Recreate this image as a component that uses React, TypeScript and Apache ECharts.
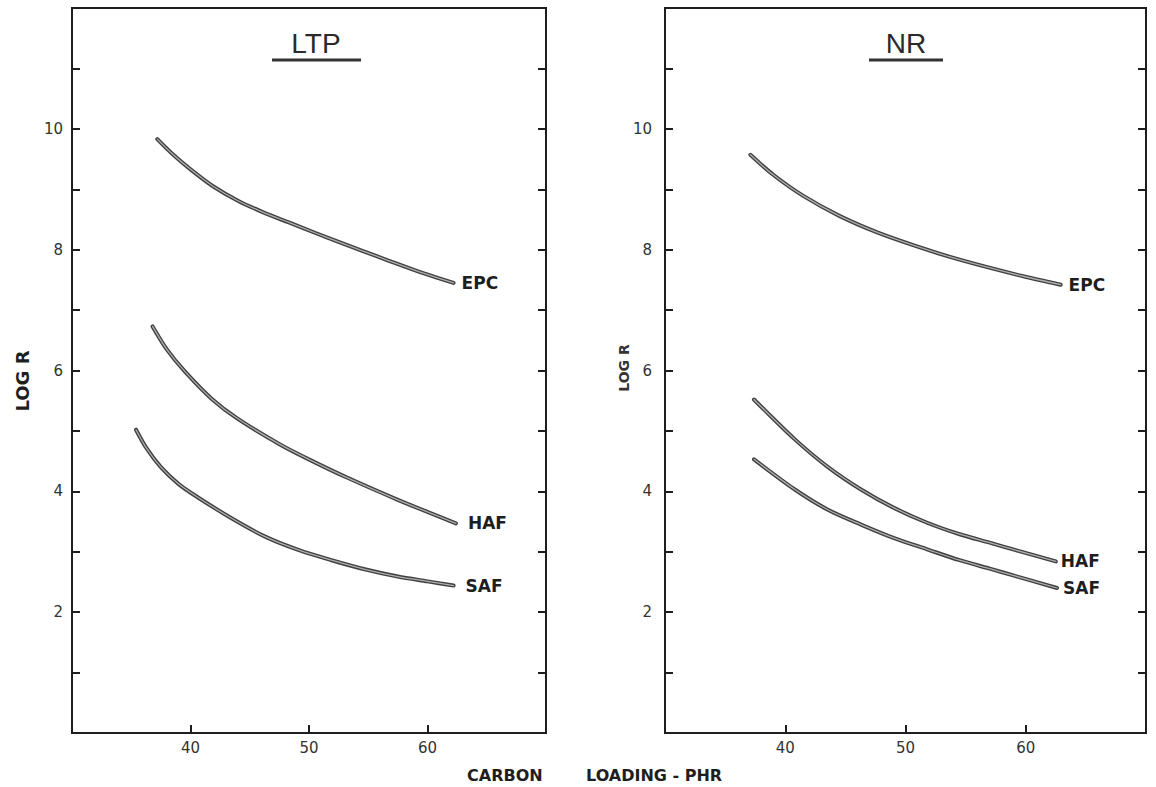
import React, { useEffect, useRef } from "react";
import * as echarts from "echarts";

// ---- data ----
const panels = ["LTP", "NR"];
const curveNames = ["EPC", "HAF", "SAF"];
const xTickLabels = [40, 50, 60];
const yTickLabels = [2, 4, 6, 8, 10];

// LTP
const ltpEpcX = [37.2, 38.5, 40, 41.9, 44, 46, 48.3, 50.5, 52.5, 54.5, 56.7, 59.5, 62.2];
const ltpEpcY = [9.83, 9.58, 9.33, 9.05, 8.81, 8.63, 8.45, 8.28, 8.13, 7.98, 7.82, 7.62, 7.45];
const ltpHafX = [36.8, 38, 39.5, 41.8, 44, 47.7, 50.5, 53.3, 57.5, 62.4];
const ltpHafY = [6.73, 6.35, 5.99, 5.53, 5.2, 4.76, 4.48, 4.22, 3.86, 3.47];
const ltpSafX = [35.4, 36.3, 37.5, 39, 40.7, 43.5, 46.3, 49.1, 51.9, 54.7, 57.5, 60, 62.2];
const ltpSafY = [5.02, 4.71, 4.4, 4.12, 3.89, 3.55, 3.25, 3.03, 2.86, 2.71, 2.59, 2.51, 2.44];

// NR
const nrEpcX = [37.1, 39, 41.5, 44.5, 47.6, 50.7, 53.7, 56.8, 59.8, 62.9];
const nrEpcY = [9.57, 9.24, 8.89, 8.56, 8.29, 8.07, 7.88, 7.71, 7.56, 7.42];
const nrHafX = [37.4, 38, 40.8, 43.5, 46.3, 49, 51.8, 54.5, 57, 59.1, 62.5];
const nrHafY = [5.52, 5.4, 4.86, 4.41, 4.03, 3.73, 3.48, 3.29, 3.15, 3.03, 2.84];
const nrSafX = [37.4, 40.8, 43.5, 46.3, 49, 51.8, 54.5, 57, 59.1, 62.6];
const nrSafY = [4.53, 4.03, 3.7, 3.45, 3.23, 3.04, 2.86, 2.72, 2.6, 2.4];

const zip = (xs: number[], ys: number[]) => xs.map((x, i) => [x, ys[i]]);

const panelCurves = [
  [zip(ltpEpcX, ltpEpcY), zip(ltpHafX, ltpHafY), zip(ltpSafX, ltpSafY)],
  [zip(nrEpcX, nrEpcY), zip(nrHafX, nrHafY), zip(nrSafX, nrSafY)],
];

// ---- layout / style ----
const INK = "#1e1e1e";
const grids = [
  { left: 72, top: 8, width: 474, height: 725 },
  { left: 665, top: 8, width: 481, height: 725 },
];
const labelDist = [
  [8, 12, 12],
  [8, 5, 6],
];
const yLabelMargin = [9, 13];

export default function App() {
  const ref = useRef<HTMLDivElement>(null);

  useEffect(() => {
    if (!ref.current) return;
    const chart = echarts.init(ref.current, undefined, { renderer: "svg" });

    const xAxis: any[] = [];
    const yAxis: any[] = [];
    const series: any[] = [];

    grids.forEach((g, gi) => {
      xAxis.push({
        gridIndex: gi,
        type: "value",
        min: 30,
        max: 70,
        interval: 10,
        axisLine: { show: true, lineStyle: { color: INK, width: 2 } },
        axisTick: { show: true, inside: true, length: 8, lineStyle: { color: INK, width: 2 } },
        axisLabel: {
          formatter: (v: number) => (xTickLabels.includes(v) ? String(v) : ""),
          color: "#333",
          fontSize: 15,
          fontFamily: "DejaVu Sans",
          margin: 7,
        },
        splitLine: { show: false },
      });
      yAxis.push({
        gridIndex: gi,
        type: "value",
        min: 0,
        max: 12,
        interval: 1,
        axisLine: { show: true, lineStyle: { color: INK, width: 2 } },
        axisTick: { show: true, inside: true, length: 8, lineStyle: { color: INK, width: 2 } },
        axisLabel: {
          formatter: (v: number) => (yTickLabels.includes(v) ? String(v) : ""),
          color: "#333",
          fontSize: 15,
          fontFamily: "DejaVu Sans",
          margin: yLabelMargin[gi],
        },
        splitLine: { show: false },
      });
      yAxis.push({
        gridIndex: gi,
        type: "value",
        position: "right",
        min: 0,
        max: 12,
        interval: 1,
        axisLine: { show: true, lineStyle: { color: INK, width: 2 } },
        axisTick: { show: true, inside: true, length: 8, lineStyle: { color: INK, width: 2 } },
        axisLabel: { show: false },
        splitLine: { show: false },
      });

      panelCurves[gi].forEach((data, ci) => {
        // dark outer stroke with its label
        series.push({
          type: "line",
          name: panels[gi] + " " + curveNames[ci],
          xAxisIndex: gi,
          yAxisIndex: gi * 2,
          data,
          smooth: 0.3,
          showSymbol: false,
          symbol: "none",
          lineStyle: { color: "#404040", width: 4, cap: "round" },
          endLabel: {
            show: true,
            formatter: curveNames[ci],
            distance: labelDist[gi][ci],
            color: INK,
            fontSize: 17,
            fontWeight: "bold",
            fontFamily: "DejaVu Sans",
          },
          silent: true,
        });
        // light core, giving the hollow printed stroke
        series.push({
          type: "line",
          name: panels[gi] + " " + curveNames[ci] + " core",
          xAxisIndex: gi,
          yAxisIndex: gi * 2,
          data,
          smooth: 0.3,
          showSymbol: false,
          symbol: "none",
          lineStyle: { color: "#b0b0b0", width: 1.3, cap: "round" },
          silent: true,
        });
      });
    });

    const graphic: any[] = [
      // panel titles
      {
        type: "text",
        x: 316,
        y: 43,
        style: { text: panels[0], fontSize: 28, fontFamily: "Liberation Sans", fill: "#2a2a2a", textAlign: "center", textVerticalAlign: "middle" },
      },
      { type: "line", shape: { x1: 272, y1: 60, x2: 361, y2: 60 }, style: { stroke: "#333", lineWidth: 3 } },
      {
        type: "text",
        x: 906,
        y: 43,
        style: { text: panels[1], fontSize: 28, fontFamily: "Liberation Sans", fill: "#2a2a2a", textAlign: "center", textVerticalAlign: "middle" },
      },
      { type: "line", shape: { x1: 869, y1: 60, x2: 943, y2: 60 }, style: { stroke: "#333", lineWidth: 3 } },
      // y axis names
      {
        type: "text",
        x: 22,
        y: 381,
        rotation: Math.PI / 2,
        style: { text: "LOG R", fontSize: 18, fontWeight: "bold", fontFamily: "DejaVu Sans", fill: INK, textAlign: "center", textVerticalAlign: "middle" },
      },
      {
        type: "text",
        x: 624,
        y: 368,
        rotation: Math.PI / 2,
        style: { text: "LOG R", fontSize: 14, fontWeight: "bold", fontFamily: "DejaVu Sans", fill: "#333", textAlign: "center", textVerticalAlign: "middle" },
      },
      // x axis name
      {
        type: "text",
        x: 467,
        y: 775,
        style: { text: "CARBON", fontSize: 16, fontWeight: "bold", fontFamily: "DejaVu Sans", fill: INK, textAlign: "left", textVerticalAlign: "middle" },
      },
      {
        type: "text",
        x: 586,
        y: 775,
        style: { text: "LOADING - PHR", fontSize: 16, fontWeight: "bold", fontFamily: "DejaVu Sans", fill: INK, textAlign: "left", textVerticalAlign: "middle" },
      },
    ];

    chart.setOption({
      animation: false,
      backgroundColor: "#ffffff",
      grid: grids.map((g) => ({ ...g, show: true, borderColor: INK, borderWidth: 2, containLabel: false })),
      xAxis,
      yAxis,
      series,
      graphic,
    });

    return () => chart.dispose();
  }, []);

  return (
    <div
      ref={ref}
      style={{ position: "fixed", left: 0, top: 0, width: 1156, height: 787, background: "#fff" }}
    />
  );
}
